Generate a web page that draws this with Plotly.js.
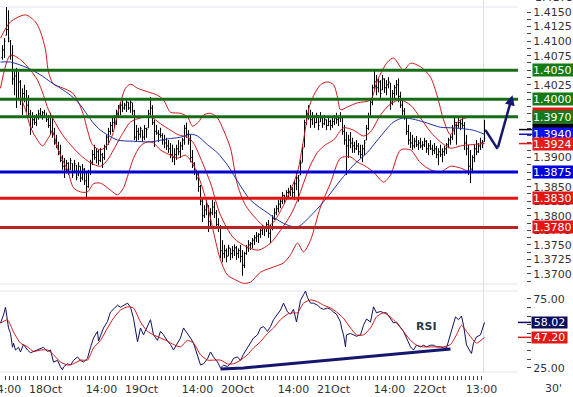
<!DOCTYPE html>
<html><head><meta charset="utf-8">
<script src="https://cdn.plot.ly/plotly-3.0.1.min.js"></script>
<style>html,body{margin:0;padding:0;background:#fff;overflow:hidden}</style>
</head><body><div id="chart" style="width:573px;height:397px"></div>
<script>
// ---- 30-minute OHLC bars ----
const barOpen=[1.4072,1.4085,1.4110,1.4120,1.4100,1.4075,1.4035,1.4040,1.4000,1.4030,
1.4000,1.4010,1.4000,1.3990,1.3975,1.3952,1.3965,1.3960,1.3970,1.3975,
1.3972,1.3977,1.3970,1.3965,1.3955,1.3945,1.3940,1.3925,1.3920,1.3910,
1.3895,1.3885,1.3880,1.3890,1.3880,1.3890,1.3875,1.3887,1.3870,1.3885,
1.3865,1.3880,1.3860,1.3850,1.3875,1.3892,1.3905,1.3900,1.3910,1.3895,
1.3905,1.3900,1.3918,1.3935,1.3945,1.3955,1.3960,1.3970,1.3975,1.3985,
1.3990,1.3985,1.3990,1.3995,1.3985,1.3994,1.3980,1.3935,1.3945,1.3940,
1.3947,1.3935,1.3950,1.3951,1.3975,1.3985,1.3960,1.3945,1.3942,1.3940,
1.3938,1.3930,1.3925,1.3920,1.3915,1.3905,1.3900,1.3905,1.3915,1.3910,
1.3920,1.3930,1.3950,1.3940,1.3930,1.3900,1.3890,1.3875,1.3865,1.3850,
1.3825,1.3800,1.3810,1.3818,1.3790,1.3805,1.3815,1.3805,1.3785,1.3780,
1.3740,1.3735,1.3740,1.3731,1.3744,1.3735,1.3740,1.3745,1.3735,1.3740,
1.3730,1.3715,1.3735,1.3745,1.3750,1.3752,1.3758,1.3762,1.3765,1.3768,
1.3775,1.3778,1.3780,1.3785,1.3770,1.3780,1.3795,1.3805,1.3812,1.3820,
1.3825,1.3835,1.3830,1.3840,1.3842,1.3845,1.3840,1.3855,1.3865,1.3870,
1.3892,1.3918,1.3960,1.3975,1.3970,1.3965,1.3970,1.3960,1.3972,1.3961,
1.3968,1.3958,1.3965,1.3955,1.3962,1.3955,1.3962,1.3968,1.3965,1.3968,
1.3968,1.3945,1.3930,1.3920,1.3930,1.3925,1.3920,1.3915,1.3920,1.3910,
1.3905,1.3915,1.3930,1.3950,1.3970,1.3995,1.4020,1.4030,1.4020,1.4030,
1.4016,1.4035,1.4020,1.4025,1.4028,1.3995,1.4010,1.4020,1.4025,1.4005,
1.3990,1.3980,1.3968,1.3945,1.3930,1.3925,1.3920,1.3928,1.3922,1.3925,
1.3920,1.3922,1.3928,1.3915,1.3920,1.3915,1.3912,1.3915,1.3905,1.3910,
1.3905,1.3910,1.3915,1.3922,1.3930,1.3935,1.3950,1.3960,1.3955,1.3960,
1.3958,1.3955,1.3925,1.3915,1.3885,1.3880,1.3900,1.3915,1.3910,1.3920,
1.3925,1.3927];
const barHigh=[1.4093,1.4105,1.4159,1.4153,1.4102,1.4093,1.4050,1.4054,1.4047,1.4033,
1.4019,1.4025,1.4016,1.4007,1.3982,1.3978,1.3973,1.3975,1.3982,1.3985,
1.3980,1.3982,1.3977,1.3973,1.3977,1.3968,1.3951,1.3939,1.3927,1.3922,
1.3904,1.3899,1.3896,1.3892,1.3899,1.3890,1.3896,1.3887,1.3892,1.3885,
1.3889,1.3882,1.3875,1.3879,1.3896,1.3913,1.3922,1.3916,1.3913,1.3916,
1.3908,1.3922,1.3939,1.3951,1.3961,1.3968,1.3973,1.3982,1.3990,1.3995,
1.3999,1.3994,1.3999,1.3995,1.3999,1.3994,1.3982,1.3956,1.3951,1.3953,
1.3947,1.3956,1.3951,1.3982,1.4004,1.3990,1.3965,1.3956,1.3947,1.3951,
1.3942,1.3939,1.3934,1.3930,1.3925,1.3922,1.3916,1.3922,1.3930,1.3927,
1.3934,1.3956,1.3960,1.3947,1.3939,1.3913,1.3892,1.3879,1.3875,1.3853,
1.3830,1.3818,1.3827,1.3818,1.3813,1.3827,1.3824,1.3810,1.3796,1.3784,
1.3758,1.3750,1.3744,1.3750,1.3744,1.3748,1.3751,1.3748,1.3744,1.3750,
1.3741,1.3738,1.3750,1.3758,1.3755,1.3762,1.3767,1.3772,1.3770,1.3779,
1.3784,1.3782,1.3789,1.3793,1.3784,1.3801,1.3813,1.3818,1.3827,1.3830,
1.3841,1.3836,1.3844,1.3848,1.3853,1.3849,1.3861,1.3875,1.3870,1.3896,
1.3922,1.3965,1.3982,1.3990,1.3982,1.3978,1.3973,1.3977,1.3973,1.3978,
1.3968,1.3973,1.3965,1.3970,1.3965,1.3968,1.3973,1.3977,1.3972,1.3978,
1.3968,1.3956,1.3944,1.3939,1.3944,1.3934,1.3927,1.3930,1.3925,1.3922,
1.3922,1.3930,1.3956,1.3977,1.3999,1.4025,1.4050,1.4042,1.4036,1.4033,
1.4042,1.4036,1.4033,1.4038,1.4028,1.4016,1.4025,1.4033,1.4036,1.4013,
1.3999,1.3985,1.3968,1.3956,1.3944,1.3939,1.3934,1.3937,1.3930,1.3934,
1.3928,1.3934,1.3930,1.3925,1.3930,1.3922,1.3925,1.3920,1.3916,1.3922,
1.3916,1.3920,1.3925,1.3934,1.3939,1.3956,1.3968,1.3961,1.3968,1.3965,
1.3968,1.3961,1.3939,1.3922,1.3913,1.3904,1.3922,1.3930,1.3925,1.3934,
1.3930,1.3965];
const barLow=[1.4068,1.4071,1.4110,1.4098,1.4068,1.4025,1.4007,1.3985,1.3999,1.3990,
1.3973,1.3995,1.3978,1.3968,1.3939,1.3951,1.3956,1.3954,1.3965,1.3968,
1.3965,1.3968,1.3961,1.3951,1.3939,1.3934,1.3922,1.3916,1.3904,1.3892,
1.3879,1.3865,1.3875,1.3870,1.3879,1.3865,1.3875,1.3861,1.3868,1.3858,
1.3861,1.3853,1.3832,1.3848,1.3870,1.3887,1.3896,1.3890,1.3887,1.3892,
1.3882,1.3896,1.3913,1.3922,1.3939,1.3944,1.3951,1.3956,1.3968,1.3973,
1.3978,1.3982,1.3978,1.3982,1.3977,1.3973,1.3930,1.3927,1.3930,1.3934,
1.3927,1.3930,1.3934,1.3951,1.3973,1.3956,1.3918,1.3939,1.3927,1.3934,
1.3922,1.3916,1.3913,1.3908,1.3899,1.3892,1.3887,1.3896,1.3904,1.3899,
1.3913,1.3922,1.3934,1.3922,1.3892,1.3882,1.3870,1.3861,1.3841,1.3818,
1.3789,1.3796,1.3801,1.3772,1.3779,1.3801,1.3796,1.3779,1.3772,1.3727,
1.3720,1.3727,1.3720,1.3731,1.3724,1.3727,1.3731,1.3724,1.3727,1.3720,
1.3697,1.3710,1.3733,1.3738,1.3741,1.3744,1.3750,1.3755,1.3753,1.3762,
1.3767,1.3765,1.3772,1.3762,1.3753,1.3775,1.3793,1.3801,1.3806,1.3813,
1.3820,1.3822,1.3827,1.3830,1.3834,1.3830,1.3827,1.3844,1.3824,1.3870,
1.3892,1.3918,1.3956,1.3965,1.3951,1.3956,1.3951,1.3959,1.3947,1.3961,
1.3951,1.3956,1.3947,1.3954,1.3947,1.3951,1.3956,1.3958,1.3954,1.3961,
1.3939,1.3922,1.3870,1.3899,1.3916,1.3908,1.3908,1.3913,1.3904,1.3899,
1.3892,1.3904,1.3930,1.3947,1.3968,1.3990,1.4016,1.4007,1.4012,1.4002,
1.4016,1.4011,1.4007,1.4019,1.3982,1.3990,1.3999,1.4007,1.3995,1.3985,
1.3973,1.3965,1.3939,1.3922,1.3916,1.3913,1.3916,1.3918,1.3913,1.3916,
1.3913,1.3918,1.3908,1.3904,1.3913,1.3904,1.3906,1.3899,1.3887,1.3901,
1.3892,1.3903,1.3906,1.3916,1.3922,1.3930,1.3939,1.3922,1.3951,1.3947,
1.3951,1.3913,1.3904,1.3870,1.3856,1.3875,1.3892,1.3904,1.3908,1.3913,
1.3916,1.3927];
const barClose=[1.4085,1.4100,1.4120,1.4105,1.4075,1.4035,1.4040,1.4000,1.4030,1.4000,
1.4010,1.4000,1.3990,1.3975,1.3950,1.3965,1.3960,1.3970,1.3975,1.3972,
1.3977,1.3970,1.3965,1.3955,1.3945,1.3940,1.3925,1.3920,1.3910,1.3895,
1.3885,1.3880,1.3890,1.3875,1.3895,1.3870,1.3890,1.3865,1.3885,1.3865,
1.3880,1.3860,1.3850,1.3875,1.3892,1.3905,1.3900,1.3910,1.3895,1.3905,
1.3900,1.3918,1.3935,1.3945,1.3955,1.3960,1.3970,1.3975,1.3985,1.3990,
1.3985,1.3990,1.3995,1.3985,1.3995,1.3980,1.3935,1.3945,1.3940,1.3950,
1.3935,1.3950,1.3948,1.3975,1.3985,1.3960,1.3945,1.3942,1.3940,1.3938,
1.3930,1.3925,1.3920,1.3915,1.3905,1.3900,1.3905,1.3915,1.3910,1.3920,
1.3930,1.3950,1.3940,1.3930,1.3900,1.3890,1.3875,1.3865,1.3850,1.3825,
1.3800,1.3810,1.3820,1.3790,1.3805,1.3815,1.3805,1.3785,1.3780,1.3740,
1.3735,1.3740,1.3730,1.3745,1.3735,1.3740,1.3745,1.3735,1.3740,1.3730,
1.3715,1.3735,1.3745,1.3750,1.3752,1.3758,1.3762,1.3765,1.3768,1.3775,
1.3778,1.3780,1.3785,1.3770,1.3780,1.3795,1.3805,1.3812,1.3820,1.3825,
1.3835,1.3830,1.3840,1.3842,1.3845,1.3840,1.3855,1.3865,1.3860,1.3890,
1.3915,1.3960,1.3975,1.3970,1.3965,1.3970,1.3960,1.3972,1.3955,1.3970,
1.3958,1.3965,1.3955,1.3962,1.3955,1.3962,1.3968,1.3965,1.3968,1.3970,
1.3945,1.3930,1.3920,1.3930,1.3925,1.3920,1.3915,1.3920,1.3910,1.3905,
1.3915,1.3925,1.3950,1.3970,1.3995,1.4020,1.4030,1.4020,1.4030,1.4010,
1.4035,1.4020,1.4025,1.4030,1.3995,1.4010,1.4020,1.4025,1.4005,1.3990,
1.3980,1.3970,1.3945,1.3930,1.3925,1.3920,1.3928,1.3922,1.3925,1.3920,
1.3922,1.3928,1.3915,1.3920,1.3915,1.3912,1.3915,1.3905,1.3910,1.3905,
1.3910,1.3915,1.3922,1.3930,1.3935,1.3950,1.3960,1.3955,1.3960,1.3958,
1.3955,1.3925,1.3915,1.3885,1.3880,1.3900,1.3915,1.3910,1.3920,1.3925,
1.3925,1.3948];

// ---- Bollinger bands ----
const upperX=[-1,4,11.5,16.5,19,21.5,23,25.5,29,32.5,35,38,40.5,42.5,45,49,52.5,55,58,61.5,64,67.5,72.5,77.5,80.5,84,89,92.5,95,98,100.5,104,107.5,110.5,114,117.5,121.5,126.5,131.5,135.5,140.5,144,147.5,150.5,154,159,162.5,165.5,167.5,169,172.5,177.5,184,187.5,192.5,195.5,200.5,204,209,214,217.5,220.5,224,227.5,231.5,241];
const upperY=[1.4105,1.4133,1.4145,1.4133,1.4116,1.4085,1.4047,1.4026,1.4021,1.4016,1.4011,1.3995,1.3973,1.3947,1.3922,1.3913,1.3922,1.3939,1.3982,1.4019,1.4026,1.4019,1.4013,1.4007,1.3999,1.3978,1.3976,1.3970,1.3954,1.3961,1.3973,1.3976,1.3968,1.3947,1.3916,1.3853,1.3818,1.3796,1.3781,1.3789,1.3818,1.3844,1.3875,1.3930,1.3994,1.4025,1.4030,1.4025,1.4004,1.3982,1.3987,1.3994,1.3999,1.4033,1.4064,1.4071,1.4050,1.4062,1.4056,1.4038,1.4004,1.3965,1.3939,1.3961,1.3968,1.3971];
const middleX=[-1,4,9,14,17.5,20.5,23,26.5,30,34,39,44,49,52.5,55.5,59,64,69,74,79,84,88,92.5,95.5,99,104,109,115.5,122.5,128,134,139,144,147.5,150.5,154,157.5,161.5,165.5,170.5,175.5,180.5,184,189,194,199,204,209,214,219,224,229,234,241];
const middleY=[1.4019,1.4076,1.4068,1.4050,1.4033,1.4007,1.3982,1.3959,1.3939,1.3922,1.3904,1.3891,1.3885,1.3896,1.3913,1.3935,1.3961,1.3968,1.3970,1.3958,1.3947,1.3939,1.3935,1.3925,1.3899,1.3856,1.3801,1.3762,1.3746,1.3741,1.3753,1.3775,1.3801,1.3827,1.3856,1.3887,1.3909,1.3922,1.3930,1.3951,1.3947,1.3937,1.3944,1.3973,1.3992,1.3999,1.3990,1.3968,1.3944,1.3927,1.3916,1.3920,1.3922,1.3924];
const lowerX=[9,11.5,14,17.5,20,23,25,27.5,30.5,32.5,35.5,39,42.5,45.5,49,54,57.5,60.5,63,65.5,69,72.5,75.5,79,84,87.5,91.5,95.5,99,102.5,105.5,109,112.5,116.5,120.5,124,129,135.5,140.5,144,147.5,150.5,154,159,164,169,174,177.5,181.5,185.5,190.5,194,199,204,209,214,219,224,229,234,241];
const lowerY=[1.4004,1.3982,1.3952,1.3930,1.3920,1.3934,1.3944,1.3916,1.3892,1.3879,1.3848,1.3841,1.3841,1.3855,1.3856,1.3844,1.3836,1.3848,1.3873,1.3899,1.3920,1.3927,1.3925,1.3913,1.3904,1.3899,1.3904,1.3887,1.3858,1.3818,1.3772,1.3724,1.3698,1.3690,1.3684,1.3686,1.3703,1.3712,1.3719,1.3733,1.3753,1.3738,1.3758,1.3815,1.3856,1.3899,1.3901,1.3892,1.3885,1.3875,1.3858,1.3870,1.3913,1.3913,1.3891,1.3879,1.3875,1.3885,1.3882,1.3875,1.3875];
// ---- long moving average (blue) ----
const maX=[-1,4,12.5,19,24,29,34,39,42.5,45.5,49,52.5,57.5,65.5,74,82.5,89,94,97.5,102.5,107.5,112.5,116.5,124,132.5,140.5,147.5,155.5,162.5,169,175.5,182.5,187.5,195.5,200.5,206.5,212.5,219,225.5,231.5,235.5,241];
const maY=[1.4064,1.4064,1.4054,1.4042,1.4030,1.4019,1.4007,1.3990,1.3973,1.3959,1.3947,1.3939,1.3930,1.3928,1.3927,1.3932,1.3935,1.3940,1.3937,1.3922,1.3908,1.3887,1.3865,1.3827,1.3805,1.3787,1.3781,1.3805,1.3832,1.3861,1.3887,1.3909,1.3930,1.3961,1.3968,1.3965,1.3959,1.3952,1.3951,1.3949,1.3947,1.3940];

// ---- RSI and its signal line ----
const rsiX=[-1,0.5,1.5,2.5,3,4,5,5.5,6.5,8,9,10.5,12.5,14,15.5,17.5,19,20.5,22.5,24,25.5,27.5,29,30,30.5,32.5,34,35.5,37.5,39,40.5,42.5,44,45.5,47.5,48,50.5,52.5,54,55.5,57.5,59,60.5,62.5,64,65.5,67.5,69,70.5,72.5,74,75.5,77.5,79,80.5,82.5,84,85.5,87.5,89,90.5,92.5,94,95.5,97.5,99,100.5,102.5,104,105.5,107.5,109,110.5,112.5,114,115.5,117.5,119,120.5,122.5,124,125.5,127.5,129,130.5,132.5,134,135.5,137.5,139,140.5,142.5,144,145.5,147,149,150.5,151.5,152.5,154,155.5,157.5,159,160.5,162.5,164,165.5,167,169,169.5,170.5,171.5,172,174,175.5,177,179,180.5,182,184,185.5,187,189,190.5,192,194,195.5,197,199,200.5,202,204,205.5,207,209,210.5,212,214,215.5,217,219,220.5,222,224,225.5,226.5,228,229.5,230.5,232,234,234.5,235.5,237,239,241];
const rsiY=[57.6,63.4,69,58,54,50,40,43,38,40,36.6,42,38,36,37,38,39.5,40,37,38,29.3,30.5,25.7,23.6,25.7,28,27,30.5,33,30.5,29.3,32,40,46.7,51.5,44.5,54,58.7,65.6,68,70.5,69,70.5,72,69,61,44,54,49,56,60,49,45,51.5,49,44.5,42,38,43,46.7,54,50,46.7,43,34.6,27.2,28,31.7,36.6,33,29.3,25,27,26,28,32,33,30.5,35,40,43,46.7,49,54,55,51.5,55,60,64,67,72,65.6,64,67.5,58.3,74,78,80.8,76,72,72,70.5,68.5,67.5,68.5,67.5,65.6,64,58.3,54,49,40.3,49,50,49,48,49,56,60.5,58.3,69.3,65,66,65,65,60.5,57.6,58.3,54,51.5,46.7,40.3,38,41.5,40.3,41.5,40.3,41.5,41.5,40.3,40.3,39.5,39.5,49,56,62,60,62.7,56,41.7,36.6,35.5,43,47.5,49,58.02];
const sigX=[-1,2.5,5.5,9,12.5,15.5,19,22.5,25.5,29,32.5,35.5,39,42.5,45.5,49,52.5,55.5,59,62.5,65.5,69,72.5,75.5,79,82.5,85.5,89,92.5,95.5,99,102.5,105.5,109,112.5,115.5,119,122.5,125.5,129,132.5,135.5,139,142.5,145.5,147.5,150.5,154,157.5,160.5,164,167,170.5,174,177,180.5,184,187,190.5,194,197,200.5,204,207,210.5,214,217,220.5,224,227,229.5,232,234.5,237,241];
const sigY=[57.6,59.8,51,43,40.3,37,38,38,34.6,29.3,27.2,28,30.7,30.7,39.5,45,54,61,67,69.3,68.5,58.3,51.5,49,46.7,44.5,42,40.3,45,43,34.6,30.7,30.7,30.7,28,28,30.7,34.6,39.5,44,50,54,60,64,65,65,72,74.3,73,70.5,68.5,65.6,61,54,49,49,54,62,65,62,57.6,51.5,45,41.5,40.3,40.3,40.3,40.3,42,49,56,51.5,46.7,43,47.2];
const rsiTrendX=[109,120.5,224];
const rsiTrendY=[24.3,25.0,38.8];

// ---- projection arrow (bar index / price) ----
const projX=[241.5,247.5,255];
const projY=[1.3947,1.3915,1.4007];

// ---- levels and labels ----
const levelPrices=[1.4050,1.4000,1.3970,1.3875,1.3830,1.3780];
const levelColors=['#186c18','#186c18','#186c18','#0000d0','#e01414','#b82424'];
const boxValues=[1.3975,1.4050,1.4000,1.3970,1.3948,1.3940,1.3924,1.3875,1.3830,1.3780];
const boxTexts=['','1.4050','1.4000','1.3970','','1.3940','1.3924','1.3875','1.3830','1.3780'];
const boxColors=['#e01818','#157a15','#157a15','#157a15','#000000','#1010f0','#e41c1c','#0000dc','#e31515','#e31515'];
const pointerValues=[1.3948,1.3940,1.3924];
const pointerColors=['#000000','#1010d0','#e01818'];
const rsiBoxValues=[58.02,47.20];
const rsiBoxColors=['#0c0c5c','#e01818'];
const priceTicks=[1.3700,1.3725,1.3750,1.3775,1.3800,1.3825,1.3850,1.3875,1.3900,1.3925,1.3950,1.3975,1.4000,1.4025,1.4050,1.4075,1.4100,1.4125,1.4150];
const priceTickText=['1.3700','1.3725','1.3750','1.3775','1.3800','1.3825','1.3850','','1.3900','','','','','1.4025','','1.4075','1.4100','1.4125','1.4150'];
const rsiTicks=[25,75];
const rsiTickText=['25.00','75.00'];
const timeTickPos=[1.5,21.5,49.5,69.5,97.5,117.5,145.5,165.5,193.5,213.5,239.5];
const timeTickText=['14:00','18Oct','14:00','19Oct','14:00','20Oct','14:00','21Oct','14:00','22Oct','13:00'];

const barIndex=barOpen.map((_,i)=>i);
const minorTimeTicks=[];
for(let t=1.5;t<=239.5;t+=2) minorTimeTicks.push(t);

const PX=526; // plot width in px
const px=p=>p/PX;
const FONT='DejaVu Sans, Verdana, sans-serif';

const traces=[
 {type:'scatter',mode:'lines',x:upperX,y:upperY,line:{color:'#d01818',width:1,shape:'spline',smoothing:0.8},hoverinfo:'skip'},
 {type:'scatter',mode:'lines',x:middleX,y:middleY,line:{color:'#d01818',width:1,shape:'spline',smoothing:0.8},hoverinfo:'skip'},
 {type:'scatter',mode:'lines',x:lowerX,y:lowerY,line:{color:'#d01818',width:1,shape:'spline',smoothing:0.8},hoverinfo:'skip'},
 {type:'scatter',mode:'lines',x:maX,y:maY,line:{color:'#2030a8',width:1,shape:'spline',smoothing:0.8},hoverinfo:'skip'},
 {type:'ohlc',x:barIndex,open:barOpen,high:barHigh,low:barLow,close:barClose,
  increasing:{line:{color:'#000',width:1}},decreasing:{line:{color:'#000',width:1}},tickwidth:0.5,hoverinfo:'skip'},
 {type:'scatter',mode:'lines',x:projX.slice(0,2),y:projY.slice(0,2),line:{color:'#16166e',width:2.5},hoverinfo:'skip'},
 {type:'scatter',mode:'lines',x:rsiX,y:rsiY,yaxis:'y2',line:{color:'#101060',width:1},hoverinfo:'skip'},
 {type:'scatter',mode:'lines',x:sigX,y:sigY,yaxis:'y2',line:{color:'#d01818',width:1,shape:'spline',smoothing:0.6},hoverinfo:'skip'},
 {type:'scatter',mode:'lines',x:rsiTrendX,y:rsiTrendY,yaxis:'y2',line:{color:'#16166e',width:3},hoverinfo:'skip'}
];

const shapes=[];
const frameCol='#e0e5ea';
[1,0.2473,0.2283,0.0082].forEach(y=>shapes.push({type:'line',layer:'below',xref:'paper',yref:'paper',x0:0,x1:px(518),y0:y,y1:y,line:{color:frameCol,width:1}}));
shapes.push({type:'line',layer:'below',xref:'x',yref:'paper',x0:240.5,x1:240.5,y0:0.008,y1:1.019,line:{color:'#d6e1ea',width:1}});
levelPrices.forEach((p,i)=>shapes.push({type:'line',xref:'paper',yref:'y',x0:0,x1:px(518),y0:p,y1:p,line:{color:levelColors[i],width:3}}));
pointerValues.forEach((p,i)=>shapes.push({type:'line',xref:'paper',yref:'y',x0:px(519),x1:px(532),y0:p,y1:p,line:{color:pointerColors[i],width:1.5}}));
rsiBoxValues.forEach((v,i)=>shapes.push({type:'line',xref:'paper',yref:'y2',x0:px(518),x1:px(531),y0:v,y1:v,line:{color:rsiBoxColors[i],width:1.5}}));

const annotations=[];
boxValues.forEach((v,i)=>annotations.push({xref:'paper',yref:'y',x:px(532),y:v,xanchor:'left',yanchor:'middle',
  text:boxTexts[i],showarrow:false,bgcolor:boxColors[i],font:{family:FONT,size:11,color:'#fff'},
  width:44,height:12,align:'left',borderpad:0}));
rsiBoxValues.forEach((v,i)=>annotations.push({xref:'paper',yref:'y2',x:px(531),y:v,xanchor:'left',yanchor:'middle',
  text:v.toFixed(2),showarrow:false,bgcolor:rsiBoxColors[i],font:{family:FONT,size:11,color:'#fff'},
  width:35,height:11,align:'center',borderpad:0}));
annotations.push({xref:'paper',yref:'paper',x:px(533),y:1.026,xanchor:'left',yanchor:'middle',text:'1.4175',showarrow:false,font:{family:FONT,size:11,color:'#333'}});
annotations.push({xref:'paper',yref:'paper',x:px(553),y:-0.038,xanchor:'center',yanchor:'middle',text:"30'",showarrow:false,font:{family:FONT,size:11,color:'#333'}});
annotations.push({xref:'x',yref:'y2',x:212,y:55.4,text:'<b>RSI</b>',showarrow:false,font:{family:FONT,size:11,color:'#2a3a4c'}});
annotations.push({xref:'x',yref:'y',x:projX[2],y:projY[2],axref:'x',ayref:'y',ax:projX[1],ay:projY[1],text:'',
  showarrow:true,arrowhead:2,arrowsize:0.8,arrowwidth:2.5,arrowcolor:'#16166e',standoff:0});

const layout={
  width:573,height:397,margin:{l:0,r:47,t:7,b:22},
  paper_bgcolor:'#fff',plot_bgcolor:'#fff',showlegend:false,
  font:{family:FONT,size:11,color:'#333'},
  xaxis:{range:[-1.25,261.75],anchor:'y2',showgrid:false,zeroline:false,showline:false,
    tickmode:'array',tickvals:timeTickPos,ticktext:timeTickText,ticks:'outside',ticklen:4,tickcolor:'#444',tickwidth:1,
    ticklabeloverflow:'allow',
    minor:{tickmode:'array',tickvals:minorTimeTicks,ticks:'outside',ticklen:4,tickcolor:'#444',tickwidth:1},
    tickfont:{family:FONT,size:11,color:'#333'},rangeslider:{visible:false},fixedrange:true},
  yaxis:{domain:[0.2473,1],range:[1.36828,1.41586],side:'right',anchor:'x',showgrid:false,zeroline:false,showline:false,
    tickmode:'array',tickvals:priceTicks,ticktext:priceTickText,ticks:'outside',ticklen:4,tickcolor:'#444',
    minor:{tick0:1.37,dtick:0.00125,ticks:'outside',ticklen:4,tickcolor:'#444'},
    tickfont:{family:FONT,size:11,color:'#333'},fixedrange:true},
  yaxis2:{domain:[0,0.2283],range:[19.9,80.8],side:'right',anchor:'x',showgrid:false,zeroline:false,showline:false,
    tickmode:'array',tickvals:rsiTicks,ticktext:rsiTickText,ticks:'outside',ticklen:4,tickcolor:'#444',
    minor:{tick0:25,dtick:6.25,ticks:'outside',ticklen:4,tickcolor:'#444'},
    tickfont:{family:FONT,size:11,color:'#333'},fixedrange:true},
  shapes:shapes,annotations:annotations
};
Plotly.newPlot('chart',traces,layout,{staticPlot:true,displayModeBar:false});
</script></body></html>
